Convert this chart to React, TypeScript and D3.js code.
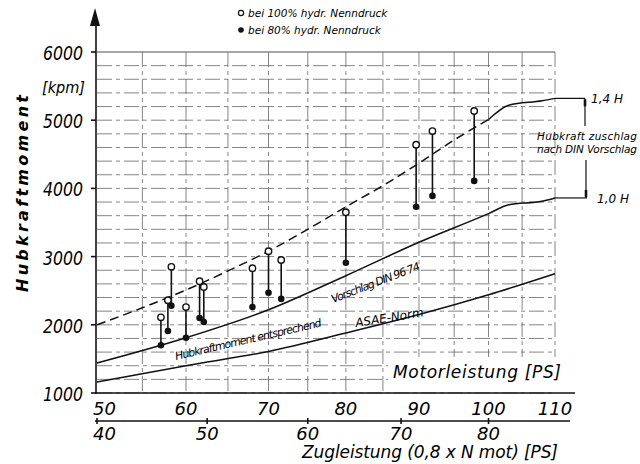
import React, { useRef, useEffect } from "react";
import * as d3 from "d3";

const motorTicks = [50, 60, 70, 80, 90, 100, 110];
const zugTicks = [40, 50, 60, 70, 80];
const yTicks = [1000, 2000, 3000, 4000, 5000, 6000];

// Messpunkte: Motorleistung [PS], Moment bei 100% / 80% Nenndruck [kpm]
const pointMotor = [57.1, 57.9, 58.3, 60, 61.6, 62.1, 68, 70, 71.6, 80, 89.6, 91.9, 97.9];
const moment100 = [2110, 2360, 2850, 2260, 2640, 2555, 2830, 3080, 2950, 3650, 4640, 4840, 5135];
const moment80 = [1700, 1910, 2280, 1810, 2100, 2040, 2260, 2470, 2380, 2910, 3730, 3890, 4110];

// 1,4 H Kurve (gestrichelt, dann durchgezogen)
const upperMotor = [50, 55, 60, 65, 70, 75, 80, 85, 90, 95, 100];
const upperValues = [2000, 2250, 2510, 2790, 3080, 3400, 3730, 4040, 4370, 4710, 5010];
const upperEndMotor = [100, 103, 108, 110];
const upperEndValues = [5010, 5220, 5285, 5320];

// Vorschlag DIN 9674 (1,0 H)
const dinMotor = [50, 60, 70, 80, 90, 100, 103, 108, 110];
const dinValues = [1440, 1810, 2220, 2720, 3210, 3630, 3760, 3810, 3860];

// ASAE-Norm
const asaeMotor = [50, 60, 70, 80, 90, 100, 110];
const asaeValues = [1160, 1400, 1610, 1880, 2150, 2440, 2750];

const FONT = '"DejaVu Sans", sans-serif';

const App = () => {
    const chartRef = useRef(null);

    useEffect(() => {
        drawChart();
    }, []);

    const drawChart = () => {
        if (!chartRef.current) return;
        d3.select(chartRef.current).select("svg").remove();

        const svg = d3
            .select(chartRef.current)
            .append("svg")
            .attr("width", 640)
            .attr("height", 464)
            .style("position", "absolute")
            .style("left", "0px")
            .style("top", "0px")
            .style("background", "#fff")
            .style("font-family", FONT)
            .style("font-style", "italic");

        const x = d3.scalePow().exponent(0.55).domain([50, 110]).range([97, 555]);
        const y = d3.scaleLinear().domain([1000, 6000]).range([393, 52]);

        // grid
        const grid = svg.append("g").attr("stroke", "#666").attr("stroke-width", 0.8);
        grid.selectAll(".hgrid")
            .data(d3.range(1000, 6001, 200))
            .enter()
            .append("line")
            .attr("x1", x(50))
            .attr("x2", x(110))
            .attr("y1", (d) => y(d))
            .attr("y2", (d) => y(d))
            .attr("stroke", (d) => (d === 6000 ? "#222" : null))
            .attr("stroke-dasharray", (d) => (d === 6000 ? null : "15 4 4 4"));
        grid.selectAll(".vgrid")
            .data(d3.range(55, 111, 5))
            .enter()
            .append("line")
            .attr("x1", (d) => x(d))
            .attr("x2", (d) => x(d))
            .attr("y1", y(6000))
            .attr("y2", y(1000))
            .attr("stroke-dasharray", "15 4 4 4");

        // white field behind Motorleistung label
        svg.append("rect").attr("x", 388).attr("y", 357).attr("width", 175).attr("height", 35).attr("fill", "#fff");
        svg.append("text")
            .attr("x", 393)
            .attr("y", 378)
            .attr("font-size", 17)
            .attr("textLength", 168)
            .attr("lengthAdjust", "spacing")
            .text("Motorleistung  [PS]");

        // axes
        const axes = svg.append("g").attr("stroke", "#111").attr("stroke-width", 1.6);
        axes.append("line").attr("x1", 96).attr("x2", 96).attr("y1", 394).attr("y2", 20);
        svg.append("path").attr("d", "M95,8 L90,26 L100,26 Z").attr("fill", "#111");
        axes.append("line").attr("x1", 95).attr("x2", 575).attr("y1", 393).attr("y2", 393);
        axes.append("line").attr("x1", 95).attr("x2", 570).attr("y1", 421).attr("y2", 421);
        axes.selectAll(".ytick")
            .data(yTicks)
            .enter()
            .append("line")
            .attr("x1", 91)
            .attr("x2", 96)
            .attr("y1", (d) => y(d))
            .attr("y2", (d) => y(d));
        axes.selectAll(".ztick")
            .data(zugTicks)
            .enter()
            .append("line")
            .attr("x1", (d) => x(d / 0.8))
            .attr("x2", (d) => x(d / 0.8))
            .attr("y1", 418)
            .attr("y2", 424);

        // y labels
        svg.selectAll(".ylabel")
            .data(yTicks)
            .enter()
            .append("text")
            .attr("x", 83)
            .attr("y", (d) => y(d) + 8)
            .attr("text-anchor", "end")
            .attr("font-size", 19)
            .attr("textLength", 40)
            .attr("lengthAdjust", "spacingAndGlyphs")
            .text((d) => d);
        svg.append("text")
            .attr("x", 42)
            .attr("y", 93)
            .attr("font-size", 16)
            .attr("textLength", 43)
            .attr("lengthAdjust", "spacingAndGlyphs")
            .text("[kpm]");
        svg.append("text")
            .attr("transform", "translate(28,292) rotate(-90)")
            .attr("font-size", 16)
            .attr("font-weight", "bold")
            .attr("textLength", 197)
            .attr("lengthAdjust", "spacing")
            .text("Hubkraftmoment");

        // x labels
        svg.selectAll(".mlabel")
            .data(motorTicks)
            .enter()
            .append("text")
            .attr("x", (d) => (d === 50 ? x(d) - 4 : x(d)))
            .attr("y", 415)
            .attr("text-anchor", (d) => (d === 50 ? "start" : "middle"))
            .attr("font-size", 18)
            .text((d) => d);
        svg.selectAll(".zlabel")
            .data(zugTicks)
            .enter()
            .append("text")
            .attr("x", (d) => (d === 40 ? x(d / 0.8) - 4 : x(d / 0.8)))
            .attr("y", 440)
            .attr("text-anchor", (d) => (d === 40 ? "start" : "middle"))
            .attr("font-size", 18)
            .text((d) => d);
        svg.append("text")
            .attr("x", 302)
            .attr("y", 458)
            .attr("font-size", 17)
            .attr("textLength", 256)
            .attr("lengthAdjust", "spacing")
            .text("Zugleistung (0,8 x N mot) [PS]");

        // curves
        const line = d3
            .line()
            .x((d) => x(d[0]))
            .y((d) => y(d[1]))
            .curve(d3.curveMonotoneX);
        const curves = svg.append("g").attr("fill", "none").attr("stroke", "#111").attr("stroke-width", 1.5);
        curves.append("path")
            .attr("d", line(d3.zip(upperMotor, upperValues)))
            .attr("stroke-dasharray", "9 5");
        curves.append("path").attr("d", line(d3.zip(upperEndMotor, upperEndValues)));
        curves.append("path").attr("d", line(d3.zip(dinMotor, dinValues)));
        curves.append("path").attr("d", line(d3.zip(asaeMotor, asaeValues)));

        // curve labels
        svg.append("text")
            .attr("transform", "translate(176,360) rotate(-13)")
            .attr("font-size", 11)
            .attr("textLength", 150)
            .attr("lengthAdjust", "spacing")
            .text("Hubkraftmoment  entsprechend");
        svg.append("text")
            .attr("transform", "translate(333,303) rotate(-21)")
            .attr("font-size", 11)
            .attr("textLength", 94)
            .attr("lengthAdjust", "spacing")
            .text("Vorschlag  DIN 96 74");
        svg.append("text")
            .attr("transform", "translate(356,327) rotate(-9)")
            .attr("font-size", 12)
            .text("ASAE-Norm");

        // measured pairs
        const pts = svg.append("g");
        const idx = d3.range(pointMotor.length);
        pts.selectAll(".stem")
            .data(idx)
            .enter()
            .append("line")
            .attr("x1", (i) => x(pointMotor[i]))
            .attr("x2", (i) => x(pointMotor[i]))
            .attr("y1", (i) => y(moment100[i]))
            .attr("y2", (i) => y(moment80[i]))
            .attr("stroke", "#111")
            .attr("stroke-width", 1.6);
        pts.selectAll(".p80")
            .data(idx)
            .enter()
            .append("circle")
            .attr("cx", (i) => x(pointMotor[i]))
            .attr("cy", (i) => y(moment80[i]))
            .attr("r", 3.3)
            .attr("fill", "#111");
        pts.selectAll(".p100")
            .data(idx)
            .enter()
            .append("circle")
            .attr("cx", (i) => x(pointMotor[i]))
            .attr("cy", (i) => y(moment100[i]))
            .attr("r", 3.2)
            .attr("fill", "#fff")
            .attr("stroke", "#111")
            .attr("stroke-width", 1.4);

        // Hubkraftzuschlag bracket
        const yTop = y(upperEndValues[upperEndValues.length - 1]);
        const yBot = y(dinValues[dinValues.length - 1]);
        const br = svg.append("g").attr("stroke", "#111").attr("stroke-width", 1.2);
        br.append("line").attr("x1", x(110)).attr("x2", 585).attr("y1", yTop).attr("y2", yTop);
        br.append("line").attr("x1", x(110)).attr("x2", 587).attr("y1", yBot).attr("y2", yBot);
        br.append("line").attr("x1", 585).attr("x2", 585).attr("y1", yTop).attr("y2", 126);
        br.append("line").attr("x1", 586).attr("x2", 586).attr("y1", 160).attr("y2", yBot);
        br.append("line").attr("x1", 585).attr("x2", 585).attr("y1", yTop + 1).attr("y2", yTop + 8).attr("stroke-width", 2.6);
        br.append("line").attr("x1", 586).attr("x2", 586).attr("y1", yBot - 8).attr("y2", yBot - 1).attr("stroke-width", 2.6);
        svg.append("text").attr("x", 591).attr("y", yTop + 5).attr("font-size", 12).text("1,4 H");
        svg.append("text").attr("x", 597).attr("y", yBot + 5).attr("font-size", 12).text("1,0 H");
        svg.append("text").attr("x", 587).attr("y", 140).attr("text-anchor", "middle").attr("font-size", 10.5)
            .attr("textLength", 100).attr("lengthAdjust", "spacing").text("Hubkraft zuschlag");
        svg.append("text").attr("x", 587).attr("y", 153).attr("text-anchor", "middle").attr("font-size", 10.5)
            .attr("textLength", 100).attr("lengthAdjust", "spacing").text("nach DIN Vorschlag");

        // legend
        const lg = svg.append("g");
        lg.append("circle").attr("cx", 241).attr("cy", 13).attr("r", 2.6).attr("fill", "#fff").attr("stroke", "#111").attr("stroke-width", 1.2);
        lg.append("circle").attr("cx", 241).attr("cy", 30).attr("r", 2.8).attr("fill", "#111");
        lg.append("text").attr("x", 248).attr("y", 17).attr("font-size", 10.5).text("bei 100% hydr. Nenndruck");
        lg.append("text").attr("x", 248).attr("y", 34).attr("font-size", 10.5).text("bei 80% hydr. Nenndruck");
    };

    return <div ref={chartRef}></div>;
};

export default App;
